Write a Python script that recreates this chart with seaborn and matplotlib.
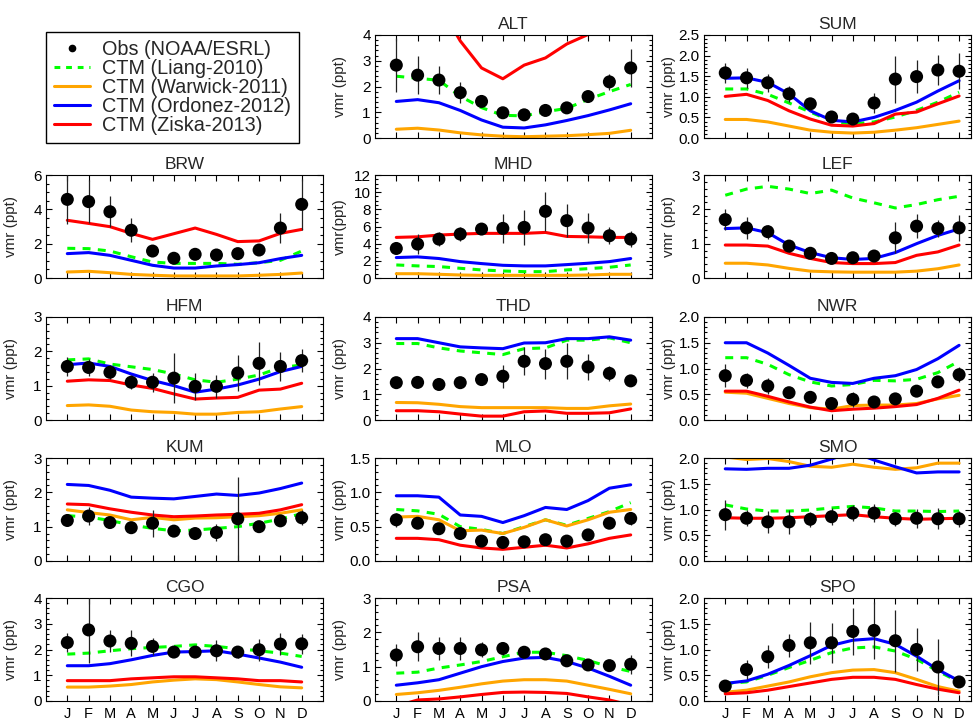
import matplotlib
matplotlib.use('Agg')
import matplotlib.pyplot as plt
from matplotlib.lines import Line2D
from matplotlib.ticker import MultipleLocator, AutoMinorLocator, FormatStrFormatter
import seaborn as sns

months = ['J', 'F', 'M', 'A', 'M', 'J', 'J', 'A', 'S', 'O', 'N', 'D']
month_idx = list(range(12))

alt_obs = [2.83, 2.44, 2.25, 1.76, 1.42, 0.98, 0.90, 1.07, 1.17, 1.61, 2.18, 2.72]
alt_err = [1.05, 0.75, 0.55, 0.42, 0.10, 0.10, 0.10, 0.10, 0.10, 0.10, 0.32, 0.72]
alt_liang = [2.40, 2.32, 2.24, 1.62, 1.18, 0.88, 0.86, 1.02, 1.15, 1.50, 1.80, 2.08]
alt_warwick = [0.34, 0.38, 0.31, 0.20, 0.12, 0.07, 0.05, 0.07, 0.09, 0.13, 0.18, 0.30]
alt_ordonez = [1.42, 1.49, 1.37, 1.07, 0.70, 0.42, 0.39, 0.51, 0.68, 0.87, 1.09, 1.33]
alt_ziska = [6.50, 6.00, 5.20, 3.77, 2.72, 2.30, 2.83, 3.11, 3.65, 4.02, 4.60, 5.20]

sum_obs = [1.58, 1.46, 1.34, 1.07, 0.83, 0.51, 0.46, 0.85, 1.43, 1.49, 1.65, 1.62]
sum_err = [0.24, 0.24, 0.22, 0.20, 0.15, 0.08, 0.08, 0.24, 0.57, 0.40, 0.36, 0.44]
sum_liang = [1.19, 1.19, 1.06, 0.85, 0.63, 0.41, 0.34, 0.39, 0.51, 0.67, 0.87, 1.11]
sum_warwick = [0.45, 0.45, 0.39, 0.29, 0.19, 0.14, 0.12, 0.14, 0.19, 0.25, 0.33, 0.41]
sum_ordonez = [1.45, 1.46, 1.35, 1.07, 0.66, 0.43, 0.39, 0.50, 0.67, 0.87, 1.14, 1.39]
sum_ziska = [1.01, 1.06, 0.91, 0.66, 0.46, 0.31, 0.29, 0.35, 0.58, 0.63, 0.83, 1.02]

brw_obs = [4.58, 4.45, 3.86, 2.78, 1.57, 1.15, 1.38, 1.34, 1.42, 1.63, 2.91, 4.29]
brw_err = [1.44, 1.23, 0.90, 0.70, 0.10, 0.10, 0.10, 0.10, 0.10, 0.10, 0.90, 1.50]
brw_liang = [1.73, 1.71, 1.57, 1.24, 0.93, 0.85, 0.85, 0.85, 0.80, 0.89, 1.03, 1.57]
brw_warwick = [0.35, 0.39, 0.31, 0.21, 0.16, 0.12, 0.12, 0.12, 0.12, 0.16, 0.21, 0.29]
brw_ordonez = [1.42, 1.48, 1.32, 1.03, 0.74, 0.58, 0.58, 0.70, 0.78, 0.89, 1.13, 1.32]
brw_ziska = [3.36, 3.18, 2.99, 2.60, 2.25, 2.58, 2.91, 2.54, 2.12, 2.16, 2.60, 2.83]

mhd_obs = [3.44, 3.95, 4.53, 5.12, 5.70, 5.78, 5.90, 7.77, 6.68, 5.82, 4.92, 4.53]
mhd_err = [0.40, 1.20, 0.80, 0.80, 0.60, 1.70, 2.00, 2.30, 1.95, 1.75, 1.00, 0.90]
mhd_liang = [1.52, 1.41, 1.33, 1.13, 0.94, 0.82, 0.74, 0.74, 0.94, 1.09, 1.25, 1.52]
mhd_warwick = [0.50, 0.50, 0.43, 0.35, 0.31, 0.31, 0.31, 0.31, 0.31, 0.35, 0.43, 0.43]
mhd_ordonez = [2.38, 2.46, 2.27, 1.91, 1.68, 1.48, 1.41, 1.41, 1.56, 1.72, 1.91, 2.27]
mhd_ziska = [4.73, 4.80, 5.00, 5.12, 5.20, 5.20, 5.20, 5.31, 4.84, 4.80, 4.73, 4.73]

lef_obs = [1.70, 1.46, 1.35, 0.93, 0.72, 0.57, 0.59, 0.64, 1.17, 1.51, 1.44, 1.46]
lef_err = [0.30, 0.33, 0.20, 0.18, 0.12, 0.08, 0.08, 0.08, 0.45, 0.34, 0.24, 0.38]
lef_liang = [2.41, 2.59, 2.67, 2.59, 2.46, 2.56, 2.33, 2.19, 2.04, 2.14, 2.28, 2.38]
lef_warwick = [0.43, 0.43, 0.38, 0.28, 0.20, 0.18, 0.17, 0.17, 0.17, 0.20, 0.27, 0.38]
lef_ordonez = [1.44, 1.46, 1.32, 0.96, 0.74, 0.59, 0.54, 0.57, 0.74, 1.00, 1.24, 1.43]
lef_ziska = [0.96, 0.96, 0.93, 0.72, 0.57, 0.45, 0.42, 0.42, 0.45, 0.66, 0.76, 0.96]

hfm_obs = [1.56, 1.53, 1.39, 1.10, 1.10, 1.22, 0.98, 0.98, 1.37, 1.65, 1.56, 1.73]
hfm_err = [0.27, 0.25, 0.20, 0.20, 0.28, 0.72, 0.40, 0.34, 0.53, 0.62, 0.41, 0.33]
hfm_liang = [1.75, 1.78, 1.63, 1.55, 1.47, 1.34, 1.17, 1.10, 1.19, 1.31, 1.53, 1.60]
hfm_warwick = [0.42, 0.44, 0.40, 0.29, 0.24, 0.22, 0.17, 0.17, 0.22, 0.24, 0.32, 0.39]
hfm_ordonez = [1.61, 1.66, 1.56, 1.34, 1.15, 1.00, 0.81, 0.90, 1.02, 1.19, 1.41, 1.56]
hfm_ziska = [1.13, 1.17, 1.15, 1.02, 0.92, 0.76, 0.61, 0.64, 0.66, 0.87, 0.90, 1.07]

thd_obs = [1.45, 1.46, 1.38, 1.45, 1.57, 1.70, 2.28, 2.19, 2.28, 2.06, 1.81, 1.52]
thd_err = [0.08, 0.08, 0.08, 0.08, 0.12, 0.45, 0.55, 0.58, 0.70, 0.52, 0.30, 0.10]
thd_liang = [2.97, 2.97, 2.80, 2.68, 2.61, 2.54, 2.77, 2.80, 3.10, 3.10, 3.19, 3.00]
thd_warwick = [0.68, 0.67, 0.61, 0.52, 0.48, 0.48, 0.48, 0.48, 0.45, 0.45, 0.55, 0.62]
thd_ordonez = [3.16, 3.16, 3.00, 2.84, 2.80, 2.77, 2.99, 3.00, 3.16, 3.16, 3.23, 3.10]
thd_ziska = [0.36, 0.36, 0.32, 0.23, 0.15, 0.15, 0.32, 0.35, 0.26, 0.26, 0.28, 0.43]

nwr_obs = [0.86, 0.77, 0.66, 0.53, 0.44, 0.32, 0.40, 0.35, 0.41, 0.56, 0.74, 0.88]
nwr_err = [0.22, 0.14, 0.15, 0.07, 0.07, 0.08, 0.15, 0.06, 0.07, 0.06, 0.08, 0.14]
nwr_liang = [1.21, 1.21, 1.08, 0.88, 0.74, 0.66, 0.69, 0.77, 0.76, 0.79, 0.92, 1.14]
nwr_warwick = [0.54, 0.52, 0.42, 0.32, 0.24, 0.21, 0.28, 0.29, 0.29, 0.32, 0.41, 0.48]
nwr_ordonez = [1.50, 1.50, 1.30, 1.06, 0.81, 0.73, 0.71, 0.81, 0.86, 0.98, 1.19, 1.45]
nwr_ziska = [0.56, 0.56, 0.46, 0.35, 0.25, 0.18, 0.21, 0.23, 0.26, 0.30, 0.42, 0.58]

kum_obs = [1.18, 1.31, 1.12, 0.97, 1.10, 0.87, 0.80, 0.83, 1.23, 1.00, 1.17, 1.26]
kum_err = [0.15, 0.26, 0.12, 0.12, 0.40, 0.10, 0.10, 0.25, 1.22, 0.10, 0.12, 0.22]
kum_liang = [1.32, 1.28, 1.18, 1.05, 0.95, 0.88, 0.90, 0.95, 1.00, 1.10, 1.22, 1.38]
kum_warwick = [1.49, 1.41, 1.34, 1.20, 1.27, 1.20, 1.25, 1.26, 1.29, 1.32, 1.39, 1.49]
kum_ordonez = [2.23, 2.20, 2.06, 1.86, 1.83, 1.81, 1.88, 1.95, 1.91, 1.98, 2.11, 2.27]
kum_ziska = [1.66, 1.64, 1.52, 1.42, 1.34, 1.29, 1.31, 1.34, 1.36, 1.39, 1.49, 1.64]

mlo_obs = [0.60, 0.55, 0.47, 0.40, 0.29, 0.27, 0.28, 0.31, 0.29, 0.38, 0.55, 0.62]
mlo_err = [0.10, 0.07, 0.07, 0.07, 0.05, 0.05, 0.05, 0.05, 0.05, 0.05, 0.05, 0.09]
mlo_liang = [0.75, 0.73, 0.68, 0.50, 0.46, 0.40, 0.50, 0.60, 0.52, 0.62, 0.72, 0.85]
mlo_warwick = [0.64, 0.65, 0.60, 0.44, 0.45, 0.40, 0.49, 0.60, 0.51, 0.60, 0.71, 0.75]
mlo_ordonez = [0.95, 0.95, 0.93, 0.67, 0.65, 0.56, 0.66, 0.78, 0.75, 0.88, 1.06, 1.11]
mlo_ziska = [0.33, 0.33, 0.31, 0.23, 0.19, 0.17, 0.20, 0.23, 0.19, 0.25, 0.33, 0.38]

smo_obs = [0.90, 0.83, 0.76, 0.76, 0.81, 0.86, 0.93, 0.93, 0.82, 0.83, 0.82, 0.82]
smo_err = [0.29, 0.16, 0.22, 0.23, 0.15, 0.16, 0.16, 0.17, 0.14, 0.18, 0.20, 0.16]
smo_liang = [1.09, 1.01, 0.97, 0.97, 0.99, 1.03, 1.06, 1.03, 0.97, 0.97, 0.96, 0.97]
smo_warwick = [2.02, 1.97, 1.99, 1.93, 1.84, 1.82, 1.88, 1.82, 1.78, 1.81, 1.90, 1.90]
smo_ordonez = [1.79, 1.78, 1.80, 1.80, 1.86, 1.98, 2.12, 1.96, 1.83, 1.71, 1.73, 1.73]
smo_ziska = [0.84, 0.83, 0.83, 0.84, 0.86, 0.88, 0.90, 0.86, 0.83, 0.81, 0.82, 0.83]

cgo_obs = [2.27, 2.76, 2.33, 2.24, 2.12, 1.90, 1.90, 1.95, 1.90, 1.99, 2.21, 2.22]
cgo_err = [0.37, 1.30, 0.42, 0.50, 0.32, 0.18, 0.14, 0.40, 0.23, 0.42, 0.42, 0.40]
cgo_liang = [1.82, 1.86, 1.95, 2.03, 2.08, 2.12, 2.18, 2.12, 2.03, 1.95, 1.86, 1.73]
cgo_warwick = [0.54, 0.54, 0.58, 0.64, 0.74, 0.81, 0.86, 0.83, 0.74, 0.64, 0.55, 0.51]
cgo_ordonez = [1.37, 1.37, 1.45, 1.60, 1.77, 1.90, 1.92, 1.95, 1.82, 1.67, 1.51, 1.31]
cgo_ziska = [0.79, 0.79, 0.79, 0.86, 0.90, 0.94, 0.94, 0.90, 0.86, 0.79, 0.79, 0.74]

psa_obs = [1.34, 1.58, 1.53, 1.53, 1.49, 1.53, 1.42, 1.37, 1.17, 1.05, 1.03, 1.07]
psa_err = [0.33, 0.42, 0.33, 0.33, 0.22, 0.18, 0.14, 0.11, 0.11, 0.09, 0.09, 0.28]
psa_liang = [0.81, 0.84, 0.96, 1.05, 1.15, 1.29, 1.42, 1.42, 1.32, 1.18, 1.00, 0.86]
psa_warwick = [0.19, 0.24, 0.31, 0.40, 0.50, 0.58, 0.62, 0.62, 0.58, 0.46, 0.34, 0.21]
psa_ordonez = [0.46, 0.53, 0.62, 0.81, 1.00, 1.15, 1.25, 1.27, 1.15, 0.96, 0.72, 0.46]
psa_ziska = [-0.15, 0.03, 0.06, 0.12, 0.19, 0.25, 0.26, 0.25, 0.22, 0.12, 0.03, -0.12]

spo_obs = [0.29, 0.61, 0.86, 1.08, 1.13, 1.13, 1.35, 1.37, 1.17, 1.00, 0.66, 0.37]
spo_err = [0.08, 0.19, 0.22, 0.23, 0.41, 0.39, 0.46, 0.56, 0.60, 0.41, 0.54, 0.08]
spo_liang = [0.34, 0.37, 0.50, 0.65, 0.79, 0.94, 1.03, 1.05, 0.97, 0.81, 0.58, 0.37]
spo_warwick = [0.17, 0.21, 0.29, 0.37, 0.47, 0.55, 0.60, 0.61, 0.55, 0.42, 0.28, 0.19]
spo_ordonez = [0.34, 0.39, 0.52, 0.69, 0.88, 1.08, 1.18, 1.21, 1.10, 0.87, 0.61, 0.39]
spo_ziska = [0.14, 0.16, 0.21, 0.28, 0.35, 0.42, 0.46, 0.46, 0.42, 0.32, 0.23, 0.16]

station_names = ['ALT', 'SUM', 'BRW', 'MHD', 'LEF', 'HFM', 'THD',
                 'NWR', 'KUM', 'MLO', 'SMO', 'CGO', 'PSA', 'SPO']
y_tops = [4, 2.5, 6, 12, 3, 3, 4, 2, 3, 1.5, 2, 4, 3, 2]
y_steps = [1, 0.5, 2, 2, 1, 1, 1, 0.5, 1, 0.5, 0.5, 1, 1, 0.5]

model_labels = ['CTM (Liang-2010)', 'CTM (Warwick-2011)',
                'CTM (Ordonez-2012)', 'CTM (Ziska-2013)']
model_colors = ['#00ff00', '#ffa500', '#0000ff', '#ff0000']

stations = [
    (alt_obs, alt_err, [alt_liang, alt_warwick, alt_ordonez, alt_ziska]),
    (sum_obs, sum_err, [sum_liang, sum_warwick, sum_ordonez, sum_ziska]),
    (brw_obs, brw_err, [brw_liang, brw_warwick, brw_ordonez, brw_ziska]),
    (mhd_obs, mhd_err, [mhd_liang, mhd_warwick, mhd_ordonez, mhd_ziska]),
    (lef_obs, lef_err, [lef_liang, lef_warwick, lef_ordonez, lef_ziska]),
    (hfm_obs, hfm_err, [hfm_liang, hfm_warwick, hfm_ordonez, hfm_ziska]),
    (thd_obs, thd_err, [thd_liang, thd_warwick, thd_ordonez, thd_ziska]),
    (nwr_obs, nwr_err, [nwr_liang, nwr_warwick, nwr_ordonez, nwr_ziska]),
    (kum_obs, kum_err, [kum_liang, kum_warwick, kum_ordonez, kum_ziska]),
    (mlo_obs, mlo_err, [mlo_liang, mlo_warwick, mlo_ordonez, mlo_ziska]),
    (smo_obs, smo_err, [smo_liang, smo_warwick, smo_ordonez, smo_ziska]),
    (cgo_obs, cgo_err, [cgo_liang, cgo_warwick, cgo_ordonez, cgo_ziska]),
    (psa_obs, psa_err, [psa_liang, psa_warwick, psa_ordonez, psa_ziska]),
    (spo_obs, spo_err, [spo_liang, spo_warwick, spo_ordonez, spo_ziska]),
]

sns.set_style('ticks')
plt.rcParams['font.family'] = ['Liberation Sans', 'DejaVu Sans']
plt.rcParams['axes.linewidth'] = 0.8

W, H = 974, 721
fig = plt.figure(figsize=(W / 100, H / 100), dpi=100)

col_left = [46, 375, 704]
col_width = [277, 277, 267]
row_top = [35, 175, 317, 458, 598]
panel_h = 103
dash = (0, (2.6, 2.4))

for i, name in enumerate(station_names):
    row, col = (i + 1) // 3, (i + 1) % 3
    ax = fig.add_axes([col_left[col] / W, 1 - (row_top[row] + panel_h) / H,
                       col_width[col] / W, panel_h / H])
    obs, err, models = stations[i]

    for vals, color, lab in zip(models, model_colors, model_labels):
        ls = dash if 'Liang' in lab else '-'
        sns.lineplot(x=month_idx, y=vals, ax=ax, color=color, lw=2.2,
                     linestyle=ls, zorder=2)
    ax.errorbar(month_idx, obs, yerr=err, fmt='none', ecolor='#222222',
                elinewidth=0.9, capsize=0, zorder=3)
    sns.scatterplot(x=month_idx, y=obs, ax=ax, s=88, color='black',
                    edgecolor='none', zorder=4)

    ax.set_xlim(-1, 11.56 if col == 2 else 12)
    ax.set_ylim(0, y_tops[i])
    ax.set_xticks(month_idx)
    if row == 4:
        ax.set_xticklabels(months)
    else:
        ax.set_xticklabels([])
    step = y_steps[i]
    ax.yaxis.set_major_locator(MultipleLocator(step))
    ax.yaxis.set_minor_locator(AutoMinorLocator(4 if step == 2 else 5))
    ax.yaxis.set_major_formatter(FormatStrFormatter('%.1f' if step < 1 else '%d'))
    ax.tick_params(axis='both', which='both', direction='in', top=True,
                   right=True, width=0.8, labelsize=11, colors='black')
    ax.tick_params(axis='both', which='major', length=4.5)
    ax.tick_params(axis='both', which='minor', length=2.3)
    ax.tick_params(axis='x', pad=4, labelsize=10.5)
    ax.tick_params(axis='y', pad=3)
    for sp in ax.spines.values():
        sp.set_color('black')
        sp.set_linewidth(0.8)

    ax.set_title(name, fontsize=12.5, pad=4.5)
    ax.set_xlabel('')
    ax.set_ylabel('vmr(ppt)' if name == 'MHD' else 'vmr (ppt)', fontsize=11)
    ax.yaxis.set_label_coords(-28 / col_width[col], 0.5)

handles = [Line2D([], [], marker='o', color='black', linestyle='none', markersize=4.5)]
for color, lab in zip(model_colors, model_labels):
    handles.append(Line2D([], [], color=color, lw=2.2,
                          linestyle=(0, (1.9, 1.9)) if 'Liang' in lab else '-'))
leg = fig.legend(handles, ['Obs (NOAA/ESRL)'] + model_labels,
                 loc='upper left', bbox_to_anchor=(46 / W, 1 - 32 / H),
                 fontsize=14.3, frameon=True, fancybox=False, framealpha=1,
                 edgecolor='black', handlelength=1.8, handletextpad=0.6,
                 labelspacing=0.0, borderpad=0.4, borderaxespad=0)
leg.get_frame().set_linewidth(1.0)

fig.savefig('out.png', dpi=100)
